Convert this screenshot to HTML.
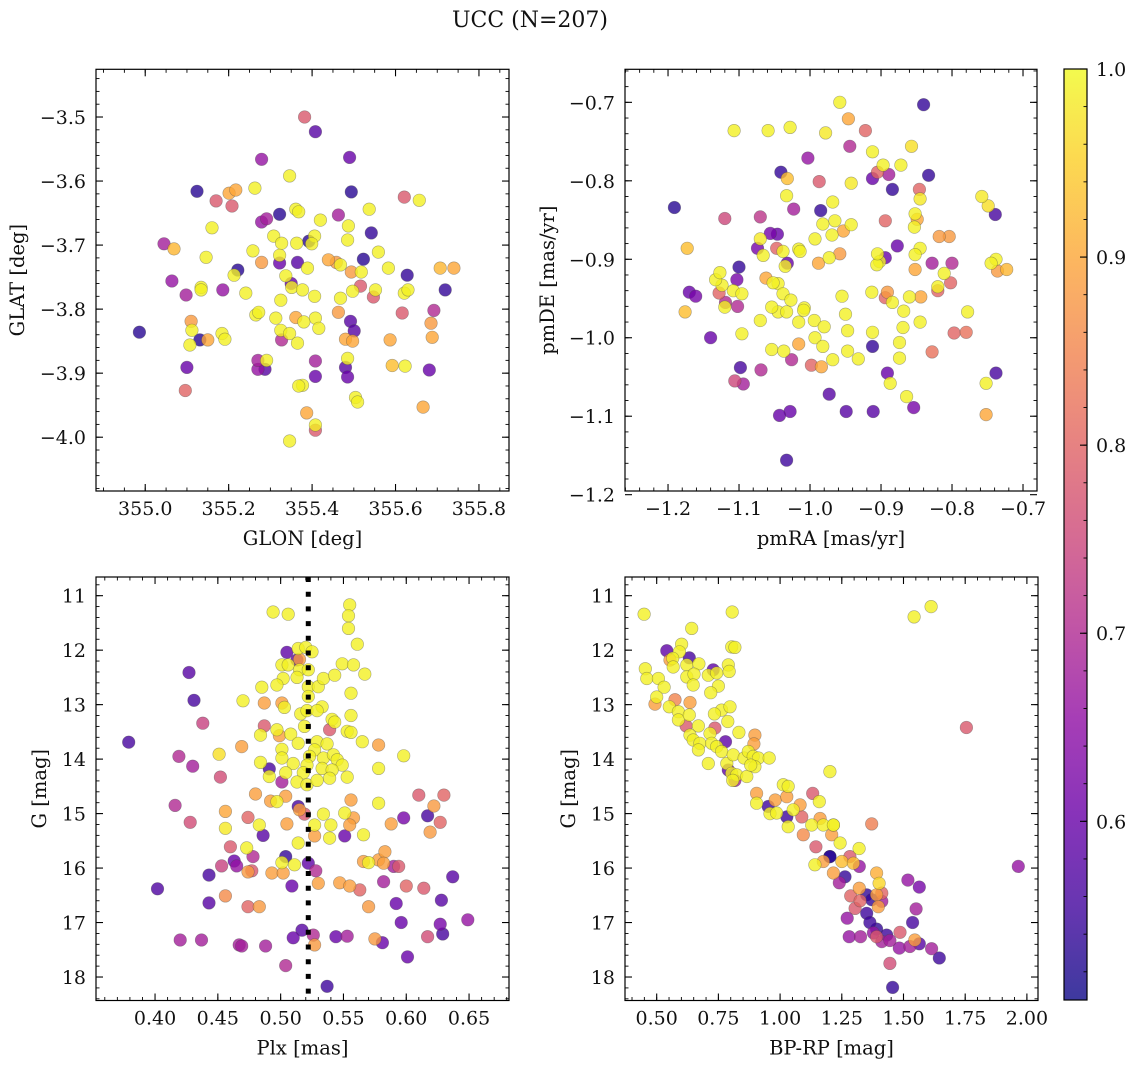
<!DOCTYPE html>
<html><head><meta charset="utf-8">
<style>
html,body{margin:0;padding:0;background:#fff;}
svg{display:block;font-family:"DejaVu Serif","Liberation Serif",serif;}
</style></head>
<body>
<svg id="fig" width="1136" height="1068" viewBox="0 0 1136 1068" xmlns="http://www.w3.org/2000/svg">
<defs><linearGradient id="cbgrad" x1="0" y1="1" x2="0" y2="0"></linearGradient></defs>
<rect width="1136" height="1068" fill="#fff"/>
<text x="530" y="27" font-size="22" text-anchor="middle" fill="#111">UCC (N=207)</text>
</svg>
<script>
// ---- data: [x, y, membership probability] ----
const skyPoints = [
[355.382,-3.500,.78],[355.408,-3.523,.58],[355.490,-3.563,.60],[355.279,-3.566,.66],[355.124,-3.616,.53],[355.494,-3.617,.53],
[355.201,-3.619,.90],[355.217,-3.614,.90],[355.263,-3.611,.99],[355.170,-3.631,.78],[355.208,-3.639,.78],[355.160,-3.673,.99],
[355.291,-3.659,.68],[355.279,-3.664,.66],[355.322,-3.652,.53],[355.346,-3.592,.99],[355.361,-3.644,.99],[355.368,-3.648,.99],
[355.420,-3.661,.99],[355.406,-3.686,.99],[355.363,-3.697,.99],[355.308,-3.686,.99],[355.327,-3.697,.99],[355.392,-3.694,.53],
[355.399,-3.698,.99],[355.463,-3.653,.68],[355.537,-3.644,.99],[355.542,-3.681,.54],[355.487,-3.670,.99],[355.485,-3.692,.99],
[355.559,-3.711,.99],[355.045,-3.698,.68],[355.069,-3.706,.92],[355.064,-3.756,.66],[355.098,-3.778,.68],[355.146,-3.719,.99],
[355.134,-3.766,.99],[355.134,-3.770,.99],[355.186,-3.770,.66],[355.213,-3.747,.99],[355.222,-3.739,.53],[355.258,-3.709,.99],
[355.279,-3.727,.88],[355.241,-3.775,.99],[355.184,-3.838,.99],[355.191,-3.847,.99],[355.265,-3.809,.99],[355.272,-3.805,.99],
[355.112,-3.833,.99],[355.107,-3.856,.99],[355.150,-3.848,.90],[355.131,-3.848,.53],[355.110,-3.819,.88],[355.270,-3.880,.68],
[355.270,-3.894,.66],[355.287,-3.894,.58],[355.291,-3.880,.99],[355.322,-3.716,.99],[355.322,-3.728,.60],[355.337,-3.748,.99],
[355.365,-3.727,.58],[355.389,-3.736,.99],[355.351,-3.766,.99],[355.377,-3.770,.99],[355.406,-3.780,.99],[355.408,-3.814,.99],
[355.416,-3.830,.99],[355.325,-3.786,.99],[355.313,-3.814,.99],[355.325,-3.833,.99],[355.327,-3.848,.70],[355.346,-3.838,.99],
[355.361,-3.813,.90],[355.380,-3.820,.99],[355.439,-3.723,.90],[355.458,-3.727,.88],[355.468,-3.731,.99],[355.494,-3.742,.88],
[355.523,-3.722,.53],[355.518,-3.742,.99],[355.516,-3.764,.78],[355.497,-3.772,.99],[355.468,-3.783,.99],[355.492,-3.819,.58],
[355.463,-3.805,.88],[355.480,-3.847,.90],[355.497,-3.850,.90],[355.547,-3.781,.78],[355.552,-3.770,.99],[355.583,-3.736,.99],
[355.621,-3.775,.99],[355.630,-3.770,.99],[355.628,-3.747,.54],[355.621,-3.625,.78],[355.657,-3.630,.99],[355.666,-3.953,.90],
[355.681,-3.895,.60],[355.688,-3.844,.90],[355.685,-3.822,.88],[355.707,-3.736,.92],[355.740,-3.736,.90],[355.692,-3.802,.70],
[355.719,-3.770,.54],[355.616,-3.806,.78],[355.587,-3.848,.90],[355.592,-3.888,.93],[355.623,-3.889,.99],[355.501,-3.834,.58],
[355.485,-3.906,.60],[355.504,-3.938,.99],[355.509,-3.945,.99],[355.377,-3.919,.99],[355.368,-3.920,.99],[355.387,-3.962,.90],
[355.408,-3.981,.99],[355.408,-3.989,.78],[355.408,-3.881,.68],[355.346,-4.006,.99],[354.986,-3.836,.53],[355.096,-3.927,.80],
[355.100,-3.891,.60],[355.480,-3.891,.58],[355.485,-3.877,.99],[355.408,-3.905,.60],[355.365,-3.853,.99],[355.350,-3.760,.60]
];
const pmPoints = [
[-0.958,-0.700,.99],[-0.946,-0.721,.90],[-0.840,-0.703,.54],[-1.028,-0.732,.99],[-0.978,-0.739,.98],[-0.922,-0.736,.80],
[-1.059,-0.736,.99],[-0.944,-0.756,.70],[-0.857,-0.756,.97],[-1.003,-0.771,.66],[-1.041,-0.789,.54],[-1.032,-0.797,.93],
[-0.987,-0.801,.78],[-0.942,-0.803,.98],[-0.912,-0.763,.99],[-0.897,-0.780,.99],[-0.872,-0.780,.99],[-0.905,-0.789,.80],
[-0.912,-0.797,.60],[-0.889,-0.792,.68],[-0.884,-0.811,.54],[-0.833,-0.793,.54],[-0.846,-0.811,.80],[-0.845,-0.823,.98],
[-0.758,-0.820,.98],[-0.739,-0.843,.56],[-0.749,-0.832,.97],[-1.191,-0.834,.53],[-1.173,-0.886,.93],[-1.070,-0.846,.72],
[-1.070,-0.874,.98],[-1.033,-0.819,.99],[-0.968,-0.827,.99],[-0.965,-0.851,.99],[-0.942,-0.856,.99],[-0.894,-0.851,.80],
[-0.969,-0.869,.99],[-0.953,-0.864,.90],[-0.993,-0.874,.99],[-0.982,-0.855,.99],[-1.023,-0.836,.68],[-0.985,-0.838,.54],
[-1.016,-0.887,.99],[-1.047,-0.886,.80],[-1.038,-0.890,.99],[-1.014,-0.890,.99],[-1.046,-0.868,.60],[-1.056,-0.867,.62],
[-1.045,-0.931,.99],[-1.035,-0.909,.99],[-1.032,-0.905,.60],[-0.988,-0.905,.90],[-0.958,-0.893,.88],[-0.973,-0.898,.99],
[-0.902,-0.903,.99],[-0.906,-0.907,.99],[-0.905,-0.893,.99],[-0.894,-0.898,.60],[-0.877,-0.883,.60],[-0.853,-0.859,.99],
[-0.852,-0.842,.99],[-0.849,-0.849,.90],[-0.845,-0.886,.99],[-0.852,-0.894,.99],[-0.852,-0.913,.90],[-0.804,-0.871,.88],
[-0.828,-0.905,.68],[-0.811,-0.918,.99],[-0.802,-0.930,.80],[-0.820,-0.935,.99],[-0.752,-1.058,.99],[-0.752,-1.098,.90],
[-0.738,-1.045,.56],[-0.723,-0.913,.92],[-0.738,-0.900,.99],[-0.778,-0.967,.99],[-0.780,-0.993,.82],[-0.828,-1.018,.82],
[-0.845,-0.980,.99],[-0.869,-0.987,.99],[-0.874,-1.026,.99],[-0.874,-1.006,.99],[-0.868,-0.966,.99],[-0.864,-1.075,.99],
[-0.854,-1.089,.62],[-0.911,-1.094,.58],[-0.891,-1.045,.60],[-0.887,-1.058,.99],[-0.912,-0.993,.99],[-0.912,-1.011,.54],
[-0.932,-1.027,.99],[-0.949,-1.094,.58],[-0.947,-1.017,.99],[-0.947,-0.991,.99],[-0.950,-0.970,.99],[-0.955,-0.947,.99],
[-0.913,-0.942,.99],[-0.891,-0.942,.88],[-0.894,-0.949,.80],[-0.884,-0.955,.99],[-0.860,-0.948,.99],[-0.844,-0.948,.90],
[-0.998,-1.035,.80],[-0.984,-1.037,.90],[-0.968,-1.028,.99],[-0.973,-1.072,.58],[-1.028,-1.094,.60],[-1.043,-1.099,.60],
[-1.033,-1.156,.55],[-1.070,-0.978,.99],[-1.069,-1.041,.70],[-1.094,-1.059,.68],[-1.098,-1.038,.56],[-1.096,-0.995,.99],
[-1.108,-0.940,.99],[-1.096,-0.944,.99],[-1.062,-0.924,.90],[-1.052,-0.930,.99],[-1.038,-0.944,.99],[-1.027,-0.952,.99],
[-1.008,-0.962,.99],[-0.994,-0.978,.99],[-0.980,-0.986,.99],[-1.045,-0.967,.99],[-1.033,-0.967,.99],[-1.016,-0.980,.99],
[-1.054,-0.961,.99],[-1.054,-1.015,.99],[-1.037,-1.017,.99],[-1.026,-1.028,.70],[-1.016,-1.008,.90],[-0.993,-1.000,.99],
[-0.982,-1.011,.99],[-1.128,-0.943,.80],[-1.119,-0.955,.70],[-1.102,-0.960,.70],[-1.170,-0.942,.60],[-1.161,-0.947,.62],
[-1.176,-0.967,.93],[-1.124,-0.933,.99],[-1.120,-0.961,.99],[-1.133,-0.926,.99],[-1.127,-0.917,.99],[-1.100,-0.910,.54],
[-1.140,-1.000,.60],[-1.103,-0.926,.62],[-1.074,-0.886,.62],[-1.066,-0.895,.99],[-1.106,-1.055,.75],[-1.120,-0.848,.75],
[-1.107,-0.736,.99],[-0.818,-0.871,.88],[-0.820,-0.940,.80],[-0.797,-0.994,.80],[-0.800,-0.905,.70],[-0.745,-0.905,.99],
[-0.736,-0.915,.88],[-1.009,-0.965,.99]
];
const plxPoints = [
[0.494,11.30,.99],[0.506,11.34,.99],[0.555,11.17,.99],[0.554,11.37,.99],[0.554,11.60,.99],[0.561,11.89,.99],[0.505,12.04,.59],
[0.514,11.97,.99],[0.520,11.95,.99],[0.525,12.03,.99],[0.513,12.18,.59],[0.515,12.17,.89],[0.501,12.27,.99],[0.506,12.27,.99],
[0.515,12.36,.99],[0.522,12.36,.99],[0.502,12.52,.99],[0.513,12.50,.99],[0.497,12.64,.99],[0.485,12.68,.99],[0.522,12.67,.99],
[0.530,12.67,.99],[0.534,12.52,.99],[0.543,12.46,.99],[0.549,12.25,.99],[0.558,12.27,.99],[0.567,12.44,.99],[0.556,12.79,.99],
[0.470,12.93,.99],[0.487,12.97,.89],[0.501,12.97,.89],[0.503,13.05,.99],[0.522,12.85,.99],[0.533,13.04,.99],[0.516,13.17,.99],
[0.521,13.11,.99],[0.529,13.11,.99],[0.541,13.27,.99],[0.543,13.32,.99],[0.556,13.20,.99],[0.487,13.39,.78],[0.497,13.46,.99],
[0.484,13.56,.99],[0.499,13.57,.89],[0.508,13.54,.99],[0.519,13.40,.99],[0.539,13.46,.78],[0.553,13.49,.99],[0.556,13.51,.99],
[0.565,13.68,.99],[0.578,13.74,.89],[0.598,13.94,.99],[0.469,13.77,.89],[0.501,13.82,.99],[0.514,13.71,.99],[0.529,13.68,.99],
[0.537,13.72,.99],[0.527,13.83,.99],[0.523,13.95,.99],[0.534,13.98,.99],[0.542,13.92,.99],[0.545,14.01,.99],[0.549,14.11,.99],
[0.501,13.98,.99],[0.484,14.06,.99],[0.510,14.08,.99],[0.521,14.11,.99],[0.533,14.17,.99],[0.541,14.20,.99],[0.491,14.18,.56],
[0.491,14.32,.99],[0.504,14.25,.99],[0.518,14.25,.99],[0.501,14.42,.68],[0.513,14.42,.99],[0.521,14.47,.99],[0.529,14.39,.99],
[0.539,14.35,.99],[0.553,14.33,.99],[0.578,14.17,.99],[0.480,14.64,.89],[0.492,14.77,.89],[0.497,14.78,.99],[0.504,14.68,.89],
[0.514,14.87,.56],[0.515,14.93,.89],[0.519,15.01,.78],[0.534,15.01,.99],[0.551,14.99,.99],[0.558,15.08,.89],[0.556,14.75,.89],
[0.578,14.81,.99],[0.610,14.66,.78],[0.598,15.08,.62],[0.588,15.19,.89],[0.617,15.04,.56],[0.474,15.07,.80],[0.483,15.21,.99],
[0.505,15.19,.89],[0.486,15.40,.58],[0.527,15.21,.99],[0.540,15.21,.99],[0.555,15.21,.89],[0.551,15.41,.60],[0.527,15.41,.89],
[0.539,15.45,.99],[0.566,15.39,.99],[0.514,15.54,.99],[0.473,15.63,.99],[0.460,15.61,.78],[0.478,15.79,.70],[0.465,15.96,.66],
[0.477,16.05,.78],[0.504,15.79,.54],[0.501,15.90,.99],[0.511,15.94,.99],[0.522,15.91,.59],[0.528,16.05,.70],[0.493,16.09,.89],
[0.502,16.09,.89],[0.509,16.33,.60],[0.530,16.28,.89],[0.547,16.27,.89],[0.555,16.33,.89],[0.566,15.88,.89],[0.570,15.90,.99],
[0.578,15.85,.89],[0.583,15.70,.89],[0.582,15.91,.89],[0.590,15.97,.68],[0.594,15.97,.78],[0.582,16.25,.68],[0.600,16.33,.80],
[0.563,16.40,.80],[0.379,13.69,.56],[0.402,16.38,.57],[0.427,12.41,.58],[0.431,12.92,.56],[0.438,13.34,.74],[0.430,14.13,.68],
[0.419,13.95,.70],[0.428,15.16,.76],[0.416,14.85,.70],[0.420,17.32,.68],[0.437,17.32,.68],[0.443,16.13,.56],[0.443,16.64,.58],
[0.453,15.96,.74],[0.456,16.51,.86],[0.451,13.91,.97],[0.452,14.33,.76],[0.456,15.27,.98],[0.456,14.96,.90],[0.463,15.87,.60],
[0.467,17.41,.68],[0.474,16.71,.80],[0.474,16.07,.88],[0.483,16.71,.88],[0.488,17.43,.68],[0.504,17.79,.70],[0.510,17.28,.60],
[0.517,17.14,.58],[0.527,17.41,.88],[0.526,17.23,.70],[0.537,18.17,.55],[0.544,17.26,.60],[0.553,17.25,.68],[0.570,16.71,.88],
[0.575,17.30,.88],[0.581,17.37,.60],[0.592,16.65,.60],[0.596,17.00,.60],[0.601,17.63,.60],[0.614,16.37,.78],[0.619,15.34,.88],
[0.617,17.26,.76],[0.627,15.16,.80],[0.627,17.03,.62],[0.637,16.16,.58],[0.628,16.59,.58],[0.629,17.21,.56],[0.649,16.95,.66],
[0.622,14.86,.88],[0.630,14.66,.80],[0.469,17.43,.68]
];
const cmdPoints = [
[1.965,15.97,.66],[1.371,15.19,.84],[1.320,15.64,.99],[1.243,15.54,.99],[1.216,15.21,.99],[1.209,15.39,.89],[1.250,15.88,.93],
[1.297,15.91,.93],[1.321,15.97,.66],[1.283,15.79,.78],[1.202,15.79,.53],[1.263,16.16,.54],[1.240,16.27,.68],[1.216,16.09,.89],
[1.391,16.09,.91],[1.401,16.28,.96],[1.321,16.37,.89],[1.286,16.51,.80],[1.324,16.60,.80],[1.304,16.74,.78],[1.272,16.92,.66],
[1.351,16.49,.54],[1.371,16.58,.54],[1.391,16.49,.89],[1.412,16.46,.80],[1.412,16.61,.68],[1.398,16.71,.89],[1.351,16.83,.55],
[1.364,17.00,.55],[1.391,17.12,.54],[1.378,17.19,.66],[1.391,17.26,.78],[1.432,17.23,.55],[1.412,17.35,.68],[1.445,17.33,.68],
[1.486,17.18,.78],[1.483,17.47,.66],[1.526,17.44,.68],[1.546,17.32,.89],[1.564,17.39,.58],[1.614,17.48,.68],[1.645,17.65,.55],
[1.445,17.75,.76],[1.456,18.19,.54],[1.280,17.26,.66],[1.326,17.26,.68],[1.537,17.00,.56],[1.551,16.75,.68],[1.518,16.22,.66],
[1.564,16.35,.62],[1.202,14.23,.99],
[0.449,11.34,.99],[0.806,11.30,.99],[0.642,11.60,.99],[0.541,12.01,.59],[0.601,11.89,.99],[0.592,12.03,.99],[0.565,12.15,.99],
[0.554,12.18,.89],[0.567,12.31,.99],[0.454,12.34,.99],[0.460,12.52,.99],[0.507,12.52,.99],[0.530,12.68,.99],[0.500,12.86,.99],
[0.493,12.99,.89],[0.574,12.91,.85],[0.632,12.14,.56],[0.622,12.27,.99],[0.671,12.25,.99],[0.622,12.49,.99],[0.651,12.44,.99],
[0.648,12.64,.99],[0.635,12.96,.89],[0.551,13.04,.99],[0.588,13.13,.99],[0.588,13.28,.99],[0.632,13.19,.99],[0.619,13.39,.78],
[0.635,13.56,.99],[0.669,13.39,.99],[0.709,12.46,.99],[0.729,12.36,.59],[0.743,12.42,.99],[0.750,12.66,.99],[0.719,12.78,.99],
[0.790,12.27,.99],[0.794,12.39,.99],[0.804,11.94,.99],[0.817,11.95,.99],[0.763,13.10,.99],[0.734,13.17,.99],[0.797,13.04,.99],
[0.788,13.31,.99],[0.736,13.43,.78],[0.648,13.65,.99],[0.675,13.71,.99],[0.669,13.83,.99],[0.716,13.53,.99],[0.723,13.71,.99],
[0.743,13.77,.99],[0.709,14.08,.99],[0.763,13.86,.99],[0.779,13.68,.59],[0.784,14.08,.99],[0.810,13.92,.99],[0.790,14.20,.59],
[0.804,14.26,.99],[0.824,14.29,.99],[0.817,14.39,.68],[0.808,14.39,.99],[0.854,13.98,.99],[0.871,13.86,.99],[0.833,13.51,.99],
[0.898,13.56,.89],[0.894,13.72,.89],[0.891,13.95,.99],[0.912,13.98,.99],[0.898,14.14,.99],[0.865,14.32,.99],[0.881,14.11,.99],
[0.956,13.98,.99],[0.905,14.63,.89],[0.905,14.81,.99],[0.980,14.75,.89],[1.027,14.69,.89],[1.013,14.47,.99],[1.033,14.50,.99],
[0.959,15.00,.99],[0.952,14.87,.55],[0.986,14.99,.99],[1.027,15.06,.55],[1.033,15.24,.99],[1.053,14.93,.99],[1.088,15.06,.80],
[1.081,14.84,.89],[1.132,14.63,.78],[1.159,14.78,.99],[1.128,15.21,.99],[1.175,15.21,.99],[1.162,15.09,.89],[1.094,15.39,.86],
[1.145,15.61,.78],[1.216,15.21,.99],[1.202,15.79,.53],[1.141,15.94,.99],[1.175,15.88,.89],[1.543,11.39,.99],[1.612,11.20,.99],
[1.755,13.42,.78]
];
// axis tick values
const skyXTicks = [355.0,355.2,355.4,355.6,355.8];
const skyYTicks = [-3.5,-3.6,-3.7,-3.8,-3.9,-4.0];
const pmXTicks = [-1.2,-1.1,-1.0,-0.9,-0.8,-0.7];
const pmYTicks = [-0.7,-0.8,-0.9,-1.0,-1.1,-1.2];
const plxXTicks = [0.40,0.45,0.50,0.55,0.60,0.65];
const gTicks = [11,12,13,14,15,16,17,18];
const colorXTicks = [0.50,0.75,1.00,1.25,1.50,1.75,2.00];
const cbarTicks = [0.6,0.7,0.8,0.9,1.0];
const plxCut = [0.522];

const NS = "http://www.w3.org/2000/svg";
const svg = document.getElementById('fig');
const VMIN = 0.505, VMAX = 1.0;
const plasma = [[13,8,135],[65,4,157],[106,0,168],[143,13,164],[177,42,144],[204,71,120],[225,100,98],[242,132,75],[252,166,54],[252,206,37],[240,249,33]];
function cmap(v){
  let t = (v - VMIN) / (VMAX - VMIN); t = Math.max(0, Math.min(1, t));
  const f = t * 10, i = Math.min(9, Math.floor(f)), u = f - i;
  const a = plasma[i], b = plasma[i + 1];
  return 'rgb(' + a.map((c, k) => Math.round(c + (b[k] - c) * u)).join(',') + ')';
}
function el(tag, attrs, parent){
  const e = document.createElementNS(NS, tag);
  for (const k in attrs) e.setAttribute(k, attrs[k]);
  (parent || svg).appendChild(e);
  return e;
}
function fmt(v, d){ return (v < 0 ? '\u2212' : '') + Math.abs(v).toFixed(d); }
const TICK_FS = 19, LABEL_FS = 19.5;

function panel(cfg){
  const g = el('g', {});
  
  
  const {l, t, r, b} = cfg.box;
  const sx = v => l + (v - cfg.x0) / (cfg.x1 - cfg.x0) * (r - l);
  const sy = v => t + (v - cfg.yTop) / (cfg.yBot - cfg.yTop) * (b - t);
  const pts = cfg.data.slice().sort((p, q) => p[2] - q[2]);
  const pg = el('g', {}, g);
  
  
  pts.forEach(p => {
    const c = el('circle', {cx: sx(p[0]).toFixed(1), cy: sy(p[1]).toFixed(1), r: 6.3, fill: cmap(p[2]), 'fill-opacity': 0.8, stroke: 'rgba(70,70,70,0.45)', 'stroke-width': 0.6}, pg);
    
    
  });
  if (cfg.vline) {
    cfg.vline.forEach(v => {
      const ln = el('line', {x1: sx(v), x2: sx(v), y1: t, y2: b, stroke: '#000', 'stroke-width': 5, 'stroke-dasharray': '5 9.7'}, g);
      
      
    });
  }
  const fr = el('rect', {x: l, y: t, width: r - l, height: b - t, fill: 'none', stroke: '#000', 'stroke-width': 1.2}, g);
  
  
  const eps = 1e-9;
  let s = Math.ceil((Math.min(cfg.x0, cfg.x1)) / cfg.xMinor - eps) * cfg.xMinor;
  for (let v = s; v <= Math.max(cfg.x0, cfg.x1) + eps; v += cfg.xMinor) {
    const x = sx(v);
    el('line', {x1: x, x2: x, y1: b, y2: b - 3.5, stroke: '#000', 'stroke-width': 0.9}, g);
    el('line', {x1: x, x2: x, y1: t, y2: t + 3.5, stroke: '#000', 'stroke-width': 0.9}, g);
  }
  const ylo = Math.min(cfg.yTop, cfg.yBot), yhi = Math.max(cfg.yTop, cfg.yBot);
  s = Math.ceil(ylo / cfg.yMinor - eps) * cfg.yMinor;
  for (let v = s; v <= yhi + eps; v += cfg.yMinor) {
    const y = sy(v);
    el('line', {x1: l, x2: l + 3.5, y1: y, y2: y, stroke: '#000', 'stroke-width': 0.9}, g);
    el('line', {x1: r, x2: r - 3.5, y1: y, y2: y, stroke: '#000', 'stroke-width': 0.9}, g);
  }
  cfg.xTicks.forEach(v => {
    const x = sx(v);
    el('line', {x1: x, x2: x, y1: b, y2: b - 7, stroke: '#000', 'stroke-width': 1.1}, g);
    el('line', {x1: x, x2: x, y1: t, y2: t + 7, stroke: '#000', 'stroke-width': 1.1}, g);
    const tx = el('text', {x: x, y: b + 24, 'font-size': TICK_FS, 'text-anchor': 'middle', fill: '#111'}, g);
    tx.textContent = fmt(v, cfg.xDec);
    
    
  });
  cfg.yTicks.forEach(v => {
    const y = sy(v);
    el('line', {x1: l, x2: l + 7, y1: y, y2: y, stroke: '#000', 'stroke-width': 1.1}, g);
    el('line', {x1: r, x2: r - 7, y1: y, y2: y, stroke: '#000', 'stroke-width': 1.1}, g);
    const tx = el('text', {x: l - 10, y: y + 7, 'font-size': TICK_FS, 'text-anchor': 'end', fill: '#111'}, g);
    tx.textContent = fmt(v, cfg.yDec);
    
    
  });
  const xl = el('text', {x: (l + r) / 2, y: b + 54, 'font-size': LABEL_FS, 'text-anchor': 'middle', fill: '#111'}, g);
  xl.textContent = cfg.xLabel;
  
  
  const cy = (t + b) / 2;
  const yl = el('text', {x: cfg.yLabelX, y: cy, 'font-size': LABEL_FS, 'text-anchor': 'middle', fill: '#111', transform: 'rotate(-90 ' + cfg.yLabelX + ' ' + cy + ')'}, g);
  yl.textContent = cfg.yLabel;
  
  
}

panel({name: 'sky-panel', box: {l: 96, t: 69.3, r: 509, b: 491}, data: skyPoints,
  x0: 354.882, x1: 355.872, yTop: -3.4255, yBot: -4.084, xTicks: skyXTicks, yTicks: skyYTicks,
  xMinor: 0.05, yMinor: 0.02, xDec: 1, yDec: 1, xLabel: 'GLON [deg]', yLabel: 'GLAT [deg]', yLabelX: 24});
panel({name: 'proper-motion-panel', box: {l: 625, t: 69.3, r: 1037, b: 491}, data: pmPoints,
  x0: -1.2606, x1: -0.6803, yTop: -0.6579, yBot: -1.1953, xTicks: pmXTicks, yTicks: pmYTicks,
  xMinor: 0.02, yMinor: 0.02, xDec: 1, yDec: 1, xLabel: 'pmRA [mas/yr]', yLabel: 'pmDE [mas/yr]', yLabelX: 554});
panel({name: 'parallax-panel', box: {l: 96, t: 577, r: 509, b: 1000.5}, data: plxPoints,
  x0: 0.3530, x1: 0.6818, yTop: 10.657, yBot: 18.431, xTicks: plxXTicks, yTicks: gTicks,
  xMinor: 0.01, yMinor: 0.2, xDec: 2, yDec: 0, xLabel: 'Plx [mas]', yLabel: 'G [mag]', yLabelX: 46, vline: plxCut});
panel({name: 'cmd-panel', box: {l: 625, t: 577, r: 1038, b: 1000.5}, data: cmdPoints,
  x0: 0.3716, x1: 2.045, yTop: 10.657, yBot: 18.431, xTicks: colorXTicks, yTicks: gTicks,
  xMinor: 0.05, yMinor: 0.2, xDec: 2, yDec: 0, xLabel: 'BP-RP [mag]', yLabel: 'G [mag]', yLabelX: 575});

// colorbar
(function(){
  const grad = document.getElementById('cbgrad');
  for (let i = 0; i <= 20; i++) {
    el('stop', {offset: (i / 20).toFixed(3), 'stop-color': cmap(VMIN + (VMAX - VMIN) * i / 20)}, grad);
  }
  const g = el('g', {});
  
  
  const l = 1064, r = 1087, t = 69, b = 1000;
  const sy = v => b - (v - VMIN) / (VMAX - VMIN) * (b - t);
  el('rect', {x: l, y: t, width: r - l, height: b - t, fill: 'url(#cbgrad)', 'fill-opacity': 0.8}, g);
  el('rect', {x: l, y: t, width: r - l, height: b - t, fill: 'none', stroke: '#000', 'stroke-width': 1.2}, g);
  for (let v = 0.52; v <= 1.0001; v += 0.02) {
    const y = sy(v);
    el('line', {x1: r, x2: r - 3.5, y1: y, y2: y, stroke: '#000', 'stroke-width': 0.9}, g);
  }
  cbarTicks.forEach(v => {
    const y = sy(v);
    el('line', {x1: r, x2: r - 7, y1: y, y2: y, stroke: '#000', 'stroke-width': 1.1}, g);
    const tx = el('text', {x: r + 9, y: y + 7, 'font-size': TICK_FS, fill: '#111'}, g);
    tx.textContent = v.toFixed(1);
    
    
  });
})();
</script>
</body></html>
